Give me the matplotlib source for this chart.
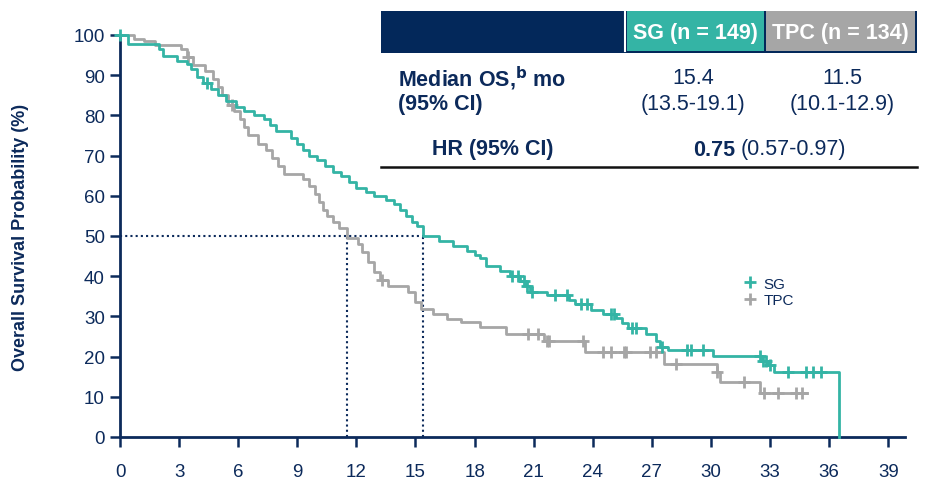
import numpy as np
import matplotlib
matplotlib.use("Agg")
import matplotlib.pyplot as plt
from matplotlib.patches import Rectangle
from matplotlib.lines import Line2D

plt.rcParams['font.family'] = ['Liberation Sans', 'DejaVu Sans']

# ---------------- data ----------------
sg_times = [0, 0.4, 2.0, 2.2, 2.9, 3.4, 3.6, 3.9, 4.2, 4.6, 5.0, 5.4, 5.9, 6.3, 6.8, 7.3,
            7.6, 7.9, 8.7, 9.0, 9.3, 9.6, 10.0, 10.4, 10.8, 11.2, 11.6, 12.0, 12.5, 12.9,
            13.5, 13.9, 14.2, 14.5, 14.8, 15.1, 15.4, 16.2, 16.9, 17.6, 18.0, 18.3, 18.6,
            19.3, 19.8, 20.3, 20.6, 20.8, 21.7, 22.8, 23.1, 23.9, 24.5, 25.2, 25.5, 25.8,
            26.7, 27.2, 27.4, 27.8, 30.1, 32.6, 32.9, 33.2, 36.5]
sg_surv = [100, 97.8, 96.5, 94.8, 93.5, 92.8, 91.5, 89.5, 88.0, 86.5, 85.0, 83.5, 82.0, 81.0,
           80.0, 79.0, 77.5, 76.0, 74.5, 73.0, 71.5, 70.0, 69.0, 67.5, 66.0, 65.0, 63.5, 62.0,
           61.0, 60.0, 59.0, 58.0, 56.5, 55.0, 53.5, 52.5, 50.0, 48.7, 47.5, 46.3, 45.3, 44.5,
           42.5, 41.3, 40.0, 38.7, 37.5, 36.0, 35.3, 34.0, 33.0, 31.5, 30.6, 29.5, 28.3, 27.2,
           25.6, 24.0, 22.5, 21.7, 20.1, 19.0, 17.8, 16.2, 0]
sg_censor = [0, 4.4, 19.9, 20.2, 20.5, 20.65, 20.9, 22.1, 22.7, 23.4, 23.7, 24.9, 25.1,
             26.0, 26.2, 27.5, 28.8, 29.0, 29.6, 32.5, 32.65, 32.8, 33.0, 33.9, 34.8, 35.2, 35.6]

tpc_times = [0, 0.7, 1.2, 1.8, 3.1, 3.4, 3.7, 4.3, 4.7, 5.0, 5.2, 5.5, 5.8, 6.1, 6.3, 6.5,
             7.0, 7.4, 7.7, 8.0, 8.3, 9.3, 9.6, 9.9, 10.1, 10.3, 10.5, 10.8, 11.1, 11.5, 12.1,
             12.3, 12.6, 12.9, 13.2, 13.6, 14.6, 15.0, 15.3, 15.9, 16.6, 17.3, 18.3, 19.6,
             21.5, 23.6, 27.6, 30.3, 30.45, 32.5]
tpc_surv = [100, 99.0, 98.5, 97.5, 96.5, 94.5, 92.5, 91.0, 89.0, 87.0, 85.0, 82.5, 81.0, 79.0,
            77.0, 75.0, 73.0, 71.5, 69.5, 67.5, 65.5, 64.2, 62.4, 60.5, 58.5, 56.5, 55.0, 53.5,
            52.0, 49.5, 48.0, 46.0, 43.5, 41.0, 39.0, 37.5, 36.0, 33.5, 31.8, 30.6, 29.4, 28.6,
            27.4, 25.6, 24.0, 21.1, 18.2, 16.2, 13.7, 11.0]
tpc_end = 34.9
tpc_censor = [3.45, 5.7, 13.3, 20.7, 21.2, 21.7, 21.8, 23.5, 24.5, 24.9, 25.6, 25.7, 26.9,
              27.2, 28.2, 30.3, 31.7, 32.7, 33.4, 34.3, 34.6]

sg_median = 15.4
tpc_median = 11.5

x_ticks = list(range(0, 40, 3))
y_ticks = list(range(0, 101, 10))

# ---------------- styles ----------------
TEAL = '#34b4a5'
GRAY = '#a6a6a6'
NAVY = '#0c2a5b'
BAR = '#03285a'

W, H = 938, 481
fig = plt.figure(figsize=(W / 100, H / 100), dpi=100)
ax = fig.add_axes([120 / W, 1 - 438 / H, (905 - 120) / W, (438 - 36) / H])


def surv_at(times, surv, t):
    idx = np.searchsorted(np.asarray(times), t, side='right') - 1
    return np.asarray(surv)[idx]


# medians (dotted)
ax.plot([0, sg_median], [50, 50], ls=(0, (1, 1.5)), color=NAVY, lw=1.5, zorder=1)
ax.plot([sg_median, sg_median], [0, 50], ls=(0, (1, 1.5)), color=NAVY, lw=1.5, zorder=1)
ax.plot([tpc_median, tpc_median], [0, 50], ls=(0, (1, 1.5)), color=NAVY, lw=1.5, zorder=1)

# TPC curve
tt = tpc_times + [tpc_end]
ts = tpc_surv + [tpc_surv[-1]]
ax.step(tt, ts, where='post', color=GRAY, lw=2.0, zorder=2, clip_on=False)
ax.plot(tpc_censor, surv_at(tpc_times, tpc_surv, tpc_censor), ls='none', marker='+',
        ms=9, mew=2.0, color=GRAY, zorder=2, clip_on=False)

# SG curve
ax.step(sg_times, sg_surv, where='post', color=TEAL, lw=2.0, zorder=3, clip_on=False)
ax.plot(sg_censor, surv_at(sg_times, sg_surv, sg_censor), ls='none', marker='+',
        ms=9, mew=2.0, color=TEAL, zorder=3, clip_on=False)

ax.set_xlim(0, 39.85)
ax.set_ylim(0, 100)
ax.set_xticks(x_ticks)
ax.set_yticks(y_ticks)
for s in ['top', 'right']:
    ax.spines[s].set_visible(False)
for s in ['left', 'bottom']:
    ax.spines[s].set_color(NAVY)
    ax.spines[s].set_linewidth(2.0)
ax.tick_params(axis='both', colors=NAVY, labelcolor=NAVY, labelsize=13.5, width=1.8,
               length=7, direction='out')
ax.tick_params(axis='x', pad=12)
ax.tick_params(axis='y', pad=4)
ax.set_ylabel('Overall Survival Probability (%)', fontsize=13, fontweight='bold',
              color=NAVY, labelpad=32)

# legend
handles = [Line2D([], [], ls='none', marker='+', ms=8, mew=2, color=TEAL),
           Line2D([], [], ls='none', marker='+', ms=8, mew=2, color=GRAY)]
leg = ax.legend(handles, ['SG', 'TPC'], loc='upper left', frameon=False,
                bbox_to_anchor=(733 / W, 1 - 267 / H), bbox_transform=fig.transFigure,
                fontsize=11, handlelength=0.8, handletextpad=0.5, labelspacing=0.15,
                borderpad=0.2)
for t in leg.get_texts():
    t.set_color(NAVY)


# ---------------- table ----------------
def fx(px):
    return px / W


def fy(py):
    return 1 - py / H


def rect(x0, y0, x1, y1, color):
    fig.add_artist(Rectangle((fx(x0), fy(y1)), fx(x1) - fx(x0), fy(y0) - fy(y1),
                             transform=fig.transFigure, facecolor=color, edgecolor='none'))


rect(381, 12, 917, 54, BAR)
rect(627, 12, 764, 52, TEAL)
rect(766, 12, 915, 52, GRAY)
fig.add_artist(Line2D([fx(625), fx(625)], [fy(12), fy(52)], color='white', lw=1.5,
                      transform=fig.transFigure))

fs = 15.5
fig.text(fx(695.5), fy(34), 'SG (n = 149)', color='white', fontsize=fs, fontweight='bold',
         ha='center', va='center')
fig.text(fx(840.5), fy(34), 'TPC (n = 134)', color='white', fontsize=fs, fontweight='bold',
         ha='center', va='center')

fig.text(fx(398), fy(79), r'Median OS,$^{\mathbf{b}}$ mo', color=NAVY, fontsize=fs,
         fontweight='bold', ha='left', va='center')
fig.text(fx(398), fy(105), '(95% CI)', color=NAVY, fontsize=fs, fontweight='bold',
         ha='left', va='center')
fig.text(fx(693), fy(79), f'{sg_median}', color=NAVY, fontsize=fs, ha='center', va='center')
fig.text(fx(693), fy(105), '(13.5-19.1)', color=NAVY, fontsize=fs, ha='center', va='center')
fig.text(fx(842), fy(79), f'{tpc_median}', color=NAVY, fontsize=fs, ha='center', va='center')
fig.text(fx(842), fy(105), '(10.1-12.9)', color=NAVY, fontsize=fs, ha='center', va='center')

fig.text(fx(493), fy(150), 'HR (95% CI)', color=NAVY, fontsize=fs, fontweight='bold',
         ha='center', va='center')
t1 = fig.text(fx(693), fy(150), '0.75', color=NAVY, fontsize=fs, fontweight='bold',
              ha='left', va='center')
fig.canvas.draw()
bb = t1.get_window_extent()
fig.text(bb.x1 / W + fx(5), fy(150), '(0.57-0.97)', color=NAVY, fontsize=fs,
         ha='left', va='center')

fig.add_artist(Line2D([fx(381), fx(917)], [fy(168), fy(168)], color='#111111', lw=1.8,
                      transform=fig.transFigure))

fig.savefig('out.png', dpi=100)
